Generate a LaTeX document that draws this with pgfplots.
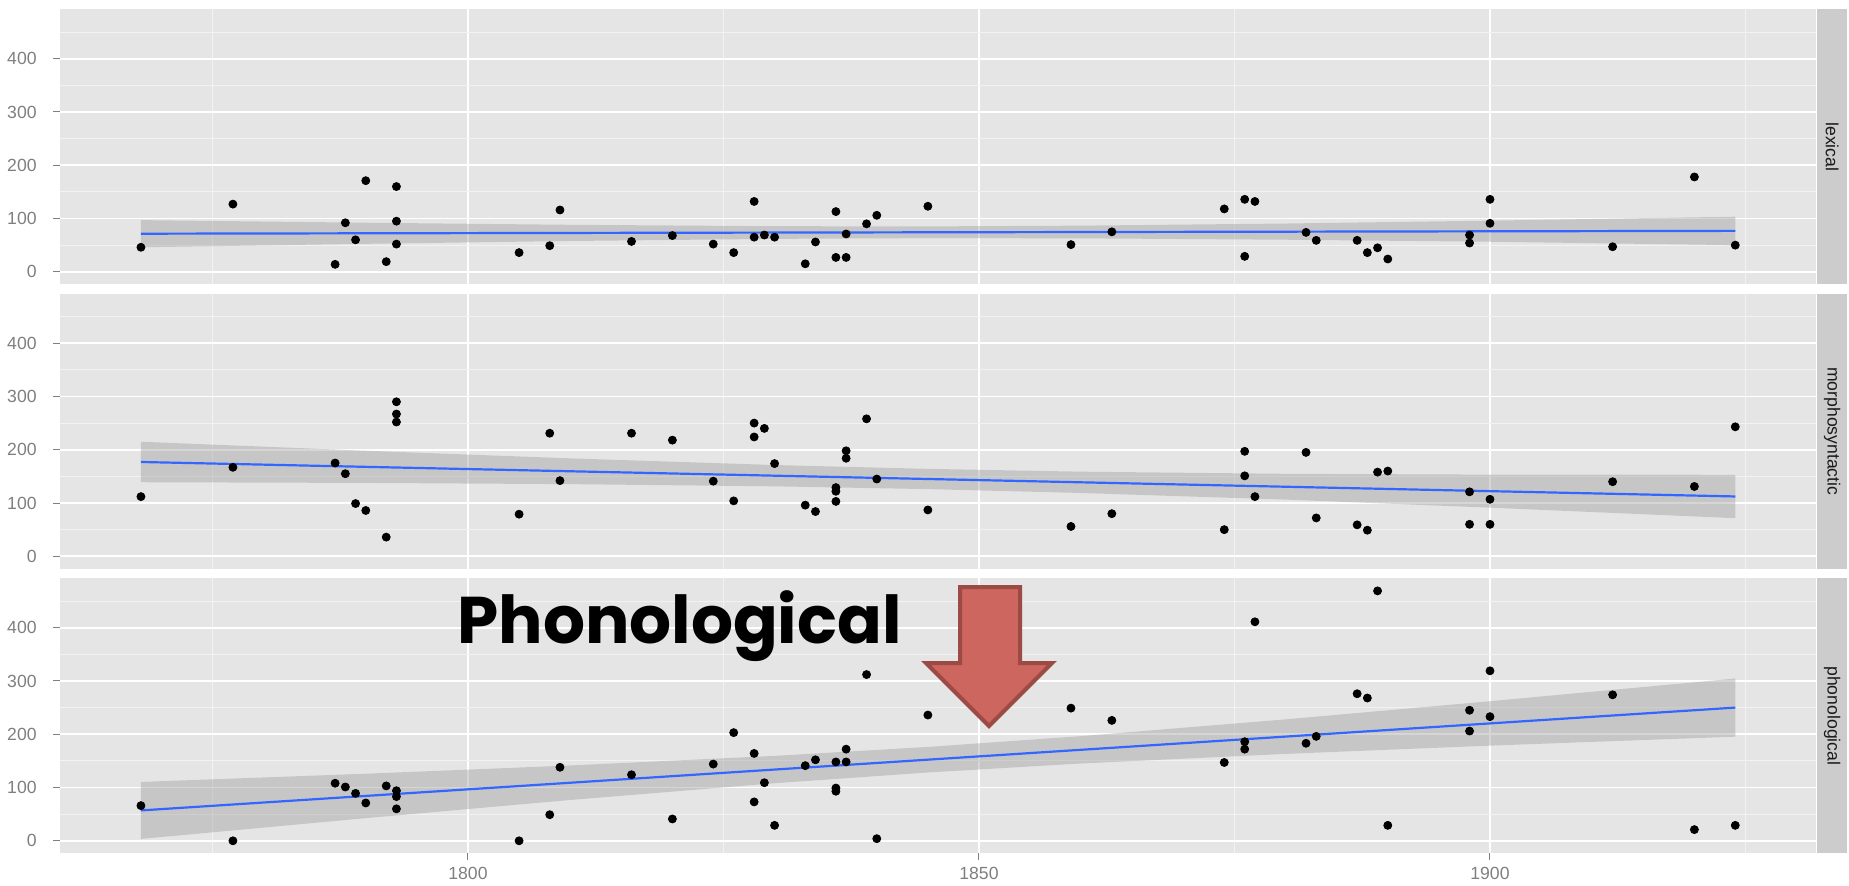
\documentclass[border=0pt]{standalone}
\usepackage{pgfplots}
\pgfplotsset{compat=1.18}
\usepackage{fontspec}
\setmainfont{Liberation Sans}
\newfontfamily\popfont{Poppins}
\definecolor{bg}{HTML}{E5E5E5}
\definecolor{gridminor}{HTML}{F2F2F2}
\definecolor{tickgrey}{HTML}{7F7F7F}
\definecolor{stripgrey}{HTML}{CCCCCC}
\definecolor{striptext}{HTML}{1A1A1A}
\definecolor{ribbon}{HTML}{999999}
\definecolor{fitblue}{HTML}{3366FF}
\definecolor{arrowfill}{HTML}{CD665F}
\definecolor{arrowdraw}{HTML}{9B4A44}
\newcommand{\tickfont}{\fontsize{8.8}{10}\selectfont}

\pgfplotstableread{
x y
1768 46
1777 127
1787 14
1788 92
1789 60
1790 171
1792 19
1793 160
1793 95
1793 52
1805 36
1808 49
1809 116
1816 57
1820 68
1824 52
1826 36
1828 132
1828 65
1829 69
1830 65
1833 15
1834 56
1836 113
1836 27
1837 71
1837 27
1839 90
1840 106
1845 123
1859 51
1863 75
1874 118
1876 136
1877 132
1876 29
1882 74
1883 59
1887 59
1888 36
1889 45
1890 24
1898 69
1898 54
1900 136
1900 91
1912 47
1920 178
1924 50
}\lexical

\pgfplotstableread{
x y
1768 112
1777 167
1787 175
1788 155
1789 99
1790 86
1792 36
1793 290
1793 267
1793 252
1805 79
1808 231
1809 142
1816 231
1820 218
1824 141
1826 104
1828 250
1828 224
1829 240
1830 174
1833 96
1834 84
1836 129
1836 122
1836 103
1837 198
1837 184
1839 258
1840 145
1845 87
1859 56
1863 80
1874 50
1876 197
1876 151
1877 112
1882 195
1883 72
1887 59
1888 49
1889 158
1890 160
1898 121
1898 60
1900 107
1900 60
1912 140
1920 131
1924 243
}\morpho

\pgfplotstableread{
x y
1768 66
1777 0
1787 108
1788 101
1789 89
1790 71
1792 103
1793 94
1793 83
1793 60
1805 0
1808 49
1809 138
1816 124
1820 41
1824 144
1826 203
1828 164
1828 73
1829 109
1830 29
1833 141
1834 152
1836 148
1836 99
1836 93
1837 172
1837 148
1839 312
1840 4
1845 236
1859 249
1863 226
1874 147
1876 186
1876 172
1877 411
1882 183
1883 196
1887 276
1888 268
1889 469
1890 29
1898 245
1898 206
1900 319
1900 233
1912 274
1920 21
1924 29
}\phono

\pgfplotsset{
  panel/.style={
    scale only axis, width=878pt, height=137.5pt,
    anchor=south west, clip=false,
    xmin=1760.08, xmax=1931.9, ymin=-23.46, ymax=492.66,
    axis background/.style={fill=bg},
    axis line style={draw=none},
    grid=both,
    major grid style={white, line width=0.9pt},
    minor grid style={gridminor, line width=0.45pt},
    xtick={1800,1850,1900}, minor xtick={1775,1825,1875,1925},
    ytick={0,100,200,300,400}, minor ytick={50,150,250,350,450},
    tick align=outside, major tick length=3.5pt, minor tick length=0pt,
    tick style={draw=tickgrey, line width=0.5pt},
    xtick pos=left, ytick pos=left,
    ticklabel style={font=\tickfont, text=tickgrey},
    yticklabel style={inner sep=0pt, anchor=east, xshift=-8pt},
    xticklabel style={inner sep=0pt, anchor=north, yshift=-3.5pt},
    /pgf/number format/1000 sep={},
    /pgf/number format/assume math mode=true,
    scaled ticks=false,
  },
  pts/.style={only marks, mark=*, mark size=2pt, mark options={draw=black, fill=black}},
  band/.style={fill=ribbon, fill opacity=0.4, draw=none},
  fit/.style={fitblue, line width=1.1pt},
}

\begin{document}
\begin{tikzpicture}
\path[use as bounding box] (0,0) rectangle (924.5pt,442.5pt);

% lexical
\begin{axis}[panel, at={(30pt,300.35pt)}, xticklabels={}, xtick style={draw=none}]
\addplot[pts] table[x=x,y=y] {\lexical};
\addplot[band] coordinates {(1768,97.0)(1790,92.1)(1810,88.2)(1830,85.6)(1845,85.2)(1860,86.6)(1880,90.6)(1900,96.0)(1924,103.4)
 (1924,50.0)(1900,56.4)(1880,60.2)(1860,62.8)(1845,63.2)(1830,61.8)(1810,57.8)(1790,52.5)(1768,46.0)} -- cycle;
\addplot[fit] coordinates {(1768,71.5)(1924,76.8)};
\fill[stripgrey] (axis description cs:1.0006,0) rectangle (axis description cs:1.0177,1);
\node[rotate=-90, font=\tickfont, text=striptext] at (axis description cs:1.0092,0.5) {lexical};
\end{axis}

% morphosyntactic
\begin{axis}[panel, at={(30pt,158.1pt)}, xticklabels={}, xtick style={draw=none}]
\addplot[pts] table[x=x,y=y] {\morpho};
\addplot[band] coordinates {(1768,215)(1790,198.1)(1810,183.8)(1830,171.3)(1845,164.1)(1860,158.8)(1880,154.8)(1900,153.3)(1924,153.0)
 (1924,71.5)(1900,91.3)(1880,106.4)(1860,118.8)(1845,126.1)(1830,131.3)(1810,135.4)(1790,137.7)(1768,139)} -- cycle;
\addplot[fit] coordinates {(1768,177)(1924,112.3)};
\fill[stripgrey] (axis description cs:1.0006,0) rectangle (axis description cs:1.0177,1);
\node[rotate=-90, font=\tickfont, text=striptext] at (axis description cs:1.0092,0.5) {morphosyntactic};
\end{axis}

% phonological
\begin{axis}[panel, at={(30pt,15.85pt)}]
\addplot[pts] table[x=x,y=y] {\phono};
\addplot[band] coordinates {(1768,110.5)(1790,125.9)(1810,141.4)(1830,159.4)(1845,176.2)(1860,196.5)(1880,227.9)(1900,262.0)(1924,304.6)
 (1924,195.4)(1900,178.6)(1880,163.1)(1860,145.1)(1845,128.2)(1830,108.0)(1810,76.6)(1790,42.5)(1768,3.5)} -- cycle;
\addplot[fit] coordinates {(1768,57)(1924,250)};
\fill[stripgrey] (axis description cs:1.0006,0) rectangle (axis description cs:1.0177,1);
\node[rotate=-90, font=\tickfont, text=striptext] at (axis description cs:1.0092,0.5) {phonological};
\end{axis}

% annotation
\node[anchor=base west, inner sep=0pt] at (228.5pt,121pt) {\popfont\bfseries\fontsize{33}{38}\selectfont Phonological};
\draw[fill=arrowfill, draw=arrowdraw, line width=2pt, line join=miter]
  (480pt,149pt) -- (510pt,149pt) -- (510pt,111pt) -- (526pt,111pt) -- (494.5pt,79.5pt) -- (463pt,111pt) -- (480pt,111pt) -- cycle;
\end{tikzpicture}
\end{document}
